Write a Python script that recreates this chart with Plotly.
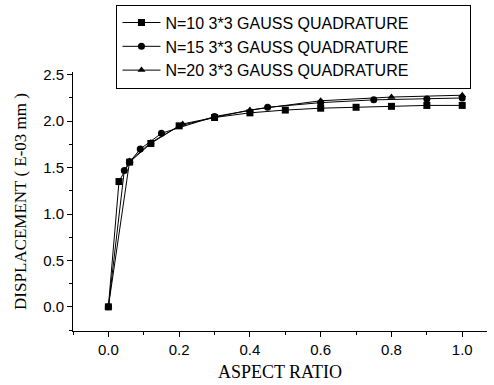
import plotly.graph_objects as go

# Data
n10_x = [0, 0.03, 0.06, 0.12, 0.2, 0.3, 0.4, 0.5, 0.6, 0.7, 0.8, 0.9, 1.0]
n10_y = [0, 1.35, 1.56, 1.76, 1.95, 2.04, 2.09, 2.12, 2.14, 2.15, 2.16, 2.17, 2.17]

n15_x = [0, 0.045, 0.06, 0.09, 0.15, 0.3, 0.45, 0.6, 0.75, 0.9, 1.0]
n15_y = [0, 1.47, 1.56, 1.70, 1.87, 2.05, 2.15, 2.20, 2.23, 2.24, 2.25]

n20_x = [0, 0.06, 0.12, 0.21, 0.4, 0.6, 0.8, 1.0]
n20_y = [0, 1.57, 1.77, 1.97, 2.12, 2.22, 2.26, 2.28]

series_names = ["N=10 3*3 GAUSS QUADRATURE",
                "N=15 3*3 GAUSS QUADRATURE",
                "N=20 3*3 GAUSS QUADRATURE"]
symbols = ["square", "circle", "triangle-up"]

x_title = "ASPECT RATIO"
y_title = "DISPLACEMENT ( E-03 mm )"

fig = go.Figure()
for xs, ys, name, sym in zip([n10_x, n15_x, n20_x], [n10_y, n15_y, n20_y], series_names, symbols):
    fig.add_trace(go.Scatter(
        x=xs, y=ys, name=name, mode="lines+markers",
        line=dict(color="black", width=1),
        marker=dict(symbol=sym, size=7, color="black"),
    ))

tick_font = dict(family="Liberation Sans, Arial, sans-serif", size=15, color="black")
title_font = dict(family="Liberation Serif, Times New Roman, serif", size=17, color="black")

fig.update_layout(
    width=494, height=385,
    margin=dict(l=73, r=7, t=72, b=54, autoexpand=False),
    paper_bgcolor="white", plot_bgcolor="white",
    showlegend=True,
    legend=dict(
        orientation="h",
        entrywidthmode="pixels", entrywidth=300,
        x=0.105, y=0.988, xref="paper", yref="container", xanchor="left", yanchor="top",
        bordercolor="black", borderwidth=1, bgcolor="white",
        font=dict(family="Liberation Sans, Arial, sans-serif", size=16, color="black"),
        tracegroupgap=0, itemwidth=38,
    ),
    xaxis=dict(
        range=[-0.1, 1.07], dtick=0.2, tick0=0, tickformat=".1f",
        showgrid=False, zeroline=False, showline=True, linecolor="black", linewidth=1,
        ticks="outside", ticklen=5, tickcolor="black",
        minor=dict(dtick=0.1, ticks="outside", ticklen=3, tickcolor="black", showgrid=False),
        tickfont=tick_font,
        title=dict(text=x_title, font=dict(family=title_font["family"], size=18, color="black"), standoff=8),
    ),
    yaxis=dict(
        range=[-0.26, 2.53], dtick=0.5, tick0=0, tickformat=".1f",
        showgrid=False, zeroline=False, showline=True, linecolor="black", linewidth=1,
        ticks="outside", ticklen=5, tickcolor="black",
        minor=dict(dtick=0.25, ticks="outside", ticklen=3, tickcolor="black", showgrid=False),
        tickfont=tick_font,
        title=dict(text=y_title, font=title_font, standoff=12),
    ),
)

fig.write_html("out.html")
